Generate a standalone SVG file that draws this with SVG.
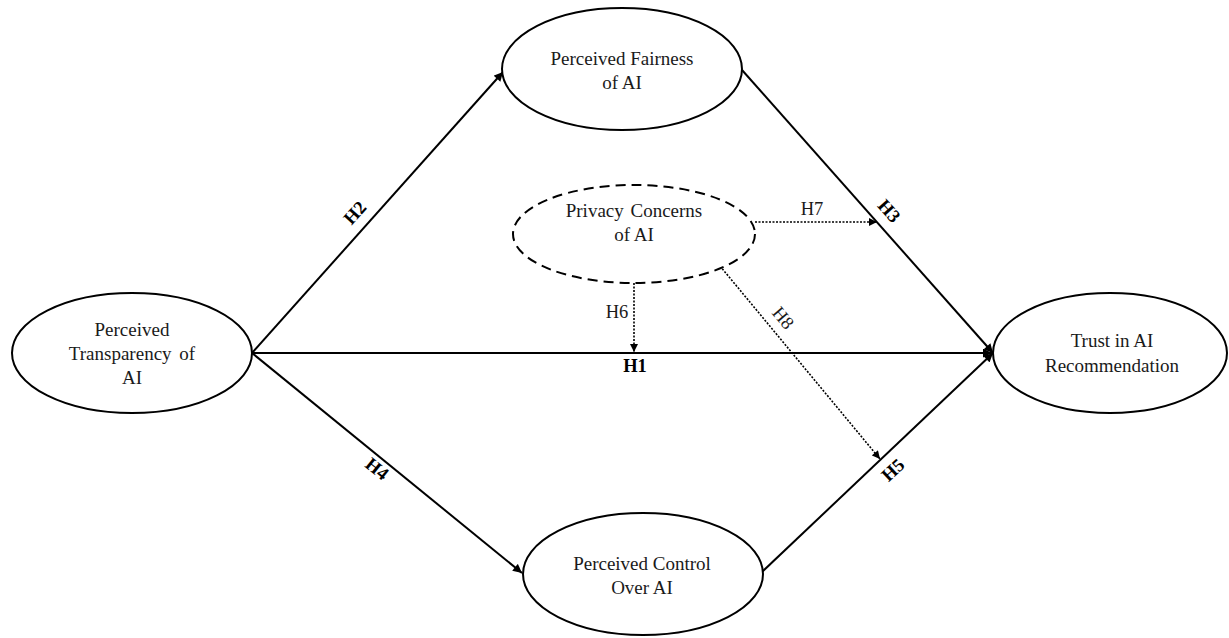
<svg xmlns="http://www.w3.org/2000/svg" width="1229" height="638" viewBox="0 0 1229 638">
<style>
.node{fill:#fff;stroke:#000;stroke-width:2}
.dash{fill:#fff;stroke:#000;stroke-width:2;stroke-dasharray:10 6}
.t{font-family:'Liberation Serif','DejaVu Serif',serif;font-size:19px;fill:#1a1a1a;text-anchor:middle}
.lb{font-family:'Liberation Serif','DejaVu Serif',serif;font-size:18.5px;fill:#000;text-anchor:middle;font-weight:bold}
.ln{font-family:'Liberation Serif','DejaVu Serif',serif;font-size:18.5px;fill:#1a1a1a;text-anchor:middle}
.solid{stroke:#000;stroke-width:2;fill:none}
.dot{stroke:#000;stroke-width:1.6;fill:none;stroke-dasharray:2 1.5}
</style>
<defs>
<marker id="arr" viewBox="0 0 10 10" refX="10" refY="5" markerWidth="10" markerHeight="9" markerUnits="userSpaceOnUse" orient="auto">
<path d="M0,0 L10,5 L0,10 z" fill="#000"/>
</marker>
<marker id="arrs" viewBox="0 0 10 10" refX="10" refY="5" markerWidth="9" markerHeight="8" markerUnits="userSpaceOnUse" orient="auto">
<path d="M0,0 L10,5 L0,10 z" fill="#000"/>
</marker>
</defs>
<rect width="1229" height="638" fill="#fff"/>
<g id="connectors">
<line class="solid" x1="252" y1="353" x2="992" y2="353" marker-end="url(#arr)"/>
<line class="solid" x1="252" y1="353" x2="503" y2="72" marker-end="url(#arr)"/>
<line class="solid" x1="742" y1="70" x2="993" y2="353" marker-end="url(#arr)"/>
<line class="solid" x1="252" y1="353" x2="522" y2="573" marker-end="url(#arr)"/>
<line class="solid" x1="762" y1="572" x2="993" y2="353" marker-end="url(#arr)"/>
<line class="dot" x1="634" y1="283" x2="634" y2="352" marker-end="url(#arrs)"/>
<line class="dot" x1="755" y1="222" x2="877" y2="222" marker-end="url(#arrs)"/>
<line class="dot" x1="720" y1="266" x2="880" y2="459" marker-end="url(#arrs)"/>
<text class="lb" x="635" y="372">H1</text>
<text class="lb" transform="translate(355,213) rotate(-48)" x="0" y="6">H2</text>
<text class="lb" transform="translate(889,211) rotate(48)" x="0" y="6">H3</text>
<text class="lb" transform="translate(377,469) rotate(39)" x="0" y="6">H4</text>
<text class="lb" transform="translate(893,470) rotate(-43)" x="0" y="6">H5</text>
<text class="ln" x="617" y="318">H6</text>
<text class="ln" x="812" y="215">H7</text>
<text class="ln" transform="translate(783,318) rotate(50)" x="0" y="6">H8</text>
</g>
<g id="transparency">
<ellipse class="node" cx="132" cy="353" rx="120" ry="60"/>
<text class="t" x="132" y="336">Perceived</text>
<text class="t" x="132" y="360" word-spacing="3">Transparency of</text>
<text class="t" x="132" y="384">AI</text>
</g>
<g id="fairness">
<ellipse class="node" cx="622" cy="69" rx="120" ry="61"/>
<text class="t" x="622" y="65">Perceived Fairness</text>
<text class="t" x="622" y="89">of AI</text>
</g>
<g id="privacy">
<ellipse class="dash" cx="634" cy="234" rx="121" ry="49"/>
<text class="t" x="634" y="217" word-spacing="2">Privacy Concerns</text>
<text class="t" x="634" y="241">of AI</text>
</g>
<g id="trust">
<ellipse class="node" cx="1110" cy="353" rx="117" ry="60"/>
<text class="t" x="1112" y="347">Trust in AI</text>
<text class="t" x="1112" y="372">Recommendation</text>
</g>
<g id="control">
<ellipse class="node" cx="643" cy="574" rx="120" ry="61"/>
<text class="t" x="642" y="570">Perceived Control</text>
<text class="t" x="642" y="594">Over AI</text>
</g>
</svg>
